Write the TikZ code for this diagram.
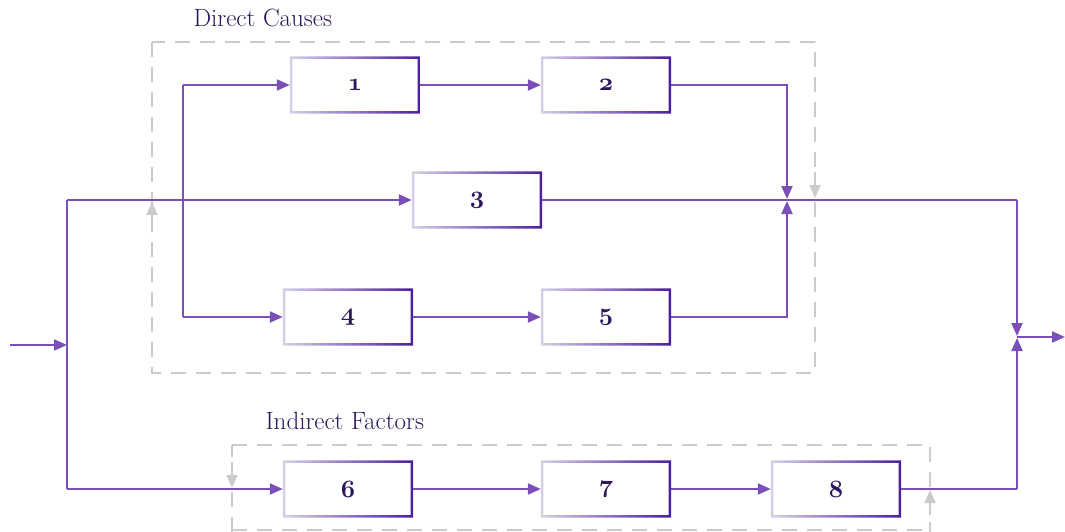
\documentclass[tikz,border=0pt]{standalone}
\usetikzlibrary{arrows.meta}
\definecolor{flow}{HTML}{7A50B8}
\definecolor{ink}{HTML}{2C175C}
\definecolor{boxlight}{HTML}{D6CFE6}
\definecolor{boxdark}{HTML}{4B1FA0}
\definecolor{frame}{HTML}{CBCBCB}
\begin{document}
\begin{tikzpicture}[x=1pt,y=-1pt,
  stagebox/.style={minimum width=130pt,minimum height=57pt,inner sep=0pt,
    font=\fontsize{23}{23}\selectfont\boldmath\color{ink}},
  link/.style={draw=flow,line width=2.2pt,-{Triangle[length=13pt,width=11pt]}},
  plain/.style={draw=flow,line width=2.2pt},
  group/.style={draw=frame,line width=2pt,dash pattern=on 15pt off 10pt},
  marker/.style={draw=frame,line width=2pt,-{Triangle[length=13pt,width=11pt]}},
  caption/.style={font=\fontsize{25}{25}\selectfont\color{ink},anchor=west}]
\useasboundingbox (0,0) rectangle (1065,532);

% grouping frames
\draw[group] (152,42) rectangle (815,373);
\draw[group] (232,445) -- (930,445) -- (930,532);
\draw[group] (232,532) -- (232,445);
\draw[group] (232,530) -- (930,530);
\node[caption] (dc) at (190,18) {Direct Causes};
\node[caption] (if) at (262,421) {Indirect Factors};

% stages
\node[stagebox] (b1) at (355,85)  {$\oldstylenums{1}$};
\node[stagebox] (b2) at (606,85)  {$\oldstylenums{2}$};
\node[stagebox] (b3) at (477,200) {$\oldstylenums{3}$};
\node[stagebox] (b4) at (348,317) {$\oldstylenums{4}$};
\node[stagebox] (b5) at (606,317) {$\oldstylenums{5}$};
\node[stagebox] (b6) at (348,489) {$\oldstylenums{6}$};
\node[stagebox] (b7) at (606,489) {$\oldstylenums{7}$};
\node[stagebox] (b8) at (836,489) {$\oldstylenums{8}$};

% shaded outlines of the stages
\foreach \n in {b1,b2,b3,b4,b5,b6,b7,b8}
  \shade[left color=boxlight,right color=boxdark,even odd rule]
    (\n.south west) rectangle (\n.north east)
    ([shift={(2.5pt,2.5pt)}]\n.south west) rectangle ([shift={(-2.5pt,-2.5pt)}]\n.north east);

% junction points
\coordinate (in)    at (10,345);
\coordinate (split) at (67,345);
\coordinate (top)   at (67,200);
\coordinate (bot)   at (67,489);
\coordinate (fork)  at (183,200);
\coordinate (mergeA) at (787,200);
\coordinate (mergeB) at (1017,337);
\coordinate (out)   at (1065,337);

% input and main split
\draw[link] (in) -- (split);
\draw[plain] (top) -- (bot);
\draw[link] (top) -- (b3.west);
\draw[link] (bot) -- (b6.west);

% direct causes branches
\draw[link] (fork |- b1.west) -- (b1.west);
\draw[plain] (fork |- b1.west) -- (fork |- b4.west);
\draw[link] (fork |- b4.west) -- (b4.west);
\draw[link] (b1) -- (b2);
\draw[link] (b4) -- (b5);
\draw[link] (b2.east) -| ([yshift=1pt]mergeA);
\draw[link] (b5.east) -| ([yshift=-1pt]mergeA);
\draw[plain] (b3.east) -- (mergeB |- b3.east);
\draw[link] (mergeB |- b3.east) -- ([yshift=1pt]mergeB);

% indirect factors chain
\draw[link] (b6) -- (b7);
\draw[link] (b7) -- (b8);
\draw[plain] (b8.east) -- (mergeB |- b8.east);
\draw[link] (mergeB |- b8.east) -- ([yshift=-1pt]mergeB);

% output
\draw[link] (mergeB) -- (out);

% frame boundary markers
\draw[marker] (152,232) -- (152,202);
\draw[marker] (815,172) -- (815,198);
\draw[marker] (232,462) -- (232,488);
\draw[marker] (930,515) -- (930,490);
\end{tikzpicture}
\end{document}
